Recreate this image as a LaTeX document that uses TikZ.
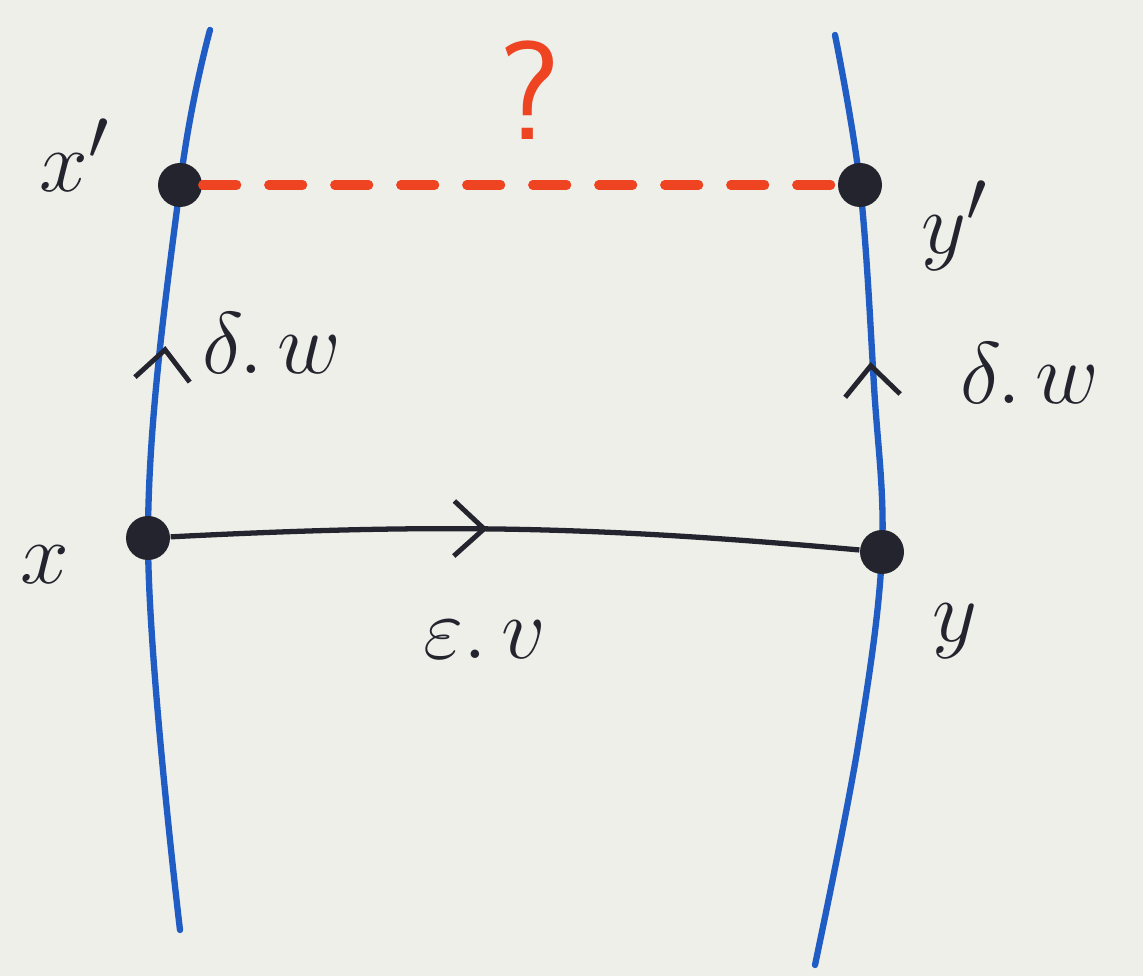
\documentclass[tikz,border=0pt]{standalone}
\usepackage{tikz}
\usetikzlibrary{arrows.meta, decorations.markings, backgrounds}
\definecolor{paper}{HTML}{EFEFEA}
\definecolor{pen}{HTML}{1F5CC4}
\definecolor{ink}{HTML}{24242E}
\definecolor{marker}{HTML}{EE4422}

\begin{document}
\begin{tikzpicture}[
    font=\fontsize{28}{32}\selectfont,
    pt/.style={circle, fill=ink, inner sep=0pt, minimum size=4.4mm},
    world/.style={pen, line width=1.8pt, line cap=round},
    lbl/.style={text=ink},
    tip/.style={postaction={decorate}, decoration={markings, mark=at position #1 with {\arrow[ink, line width=1.4pt]{Straight Barb[length=3mm, width=5.5mm]}}}},
    gap/.style={marker, line width=2.6pt, line cap=round, dash pattern=on 3.4mm off 3.2mm}
  ]
    \useasboundingbox (0,0) rectangle (11.43,9.76);
    % points
    \node[pt] (xp) at (1.80,7.91) {};
    \node[pt] (yp) at (8.60,7.91) {};
    \node[pt] (x) at (1.48,4.38) {};
    \node[pt] (y) at (8.82,4.24) {};
    \coordinate (lt) at (2.10,9.46);
    \coordinate (lb) at (1.80,0.46);
    \coordinate (rt) at (8.35,9.41);
    \coordinate (rm) at (8.74,5.90);
    \coordinate (rl) at (8.58,2.30);
    \coordinate (rb) at (8.15,0.11);
    \begin{scope}[on background layer]
      \fill[paper] (0,0) rectangle (11.43,9.76);
      \draw[world] plot[smooth, tension=0.6] coordinates {(lt) (xp) (x) (lb)};
      \draw[world] plot[smooth, tension=0.6] coordinates {(rt) (yp) (rm) (y) (rl) (rb)};
      \path[tip=0.55] (x) -- (xp);
      \path[tip=0.52] (y) -- (yp);
    \end{scope}
    \draw[gap] (xp) -- (yp);
    \draw[ink, line width=1.5pt, tip=0.46] (x) to[bend left=4] (y);
    % labels
    \node[lbl] (lxp) at (0.75,8.21) {$x'$};
    \node[lbl] (lyp) at (9.55,7.50) {$y'$};
    \node[lbl] (lx) at (0.45,4.11) {$x$};
    \node[lbl] (ly) at (9.55,3.45) {$y$};
    \node[lbl] (dl) at (2.72,6.33) {$\delta.\,w$};
    \node[lbl] (dr) at (10.30,6.03) {$\delta.\,w$};
    \node[lbl] (ev) at (4.85,3.36) {$\varepsilon.\,v$};
    \node[text=marker, font=\fontsize{40}{44}\selectfont\sffamily] (q) at (5.30,8.86) {?};
\end{tikzpicture}
\end{document}
